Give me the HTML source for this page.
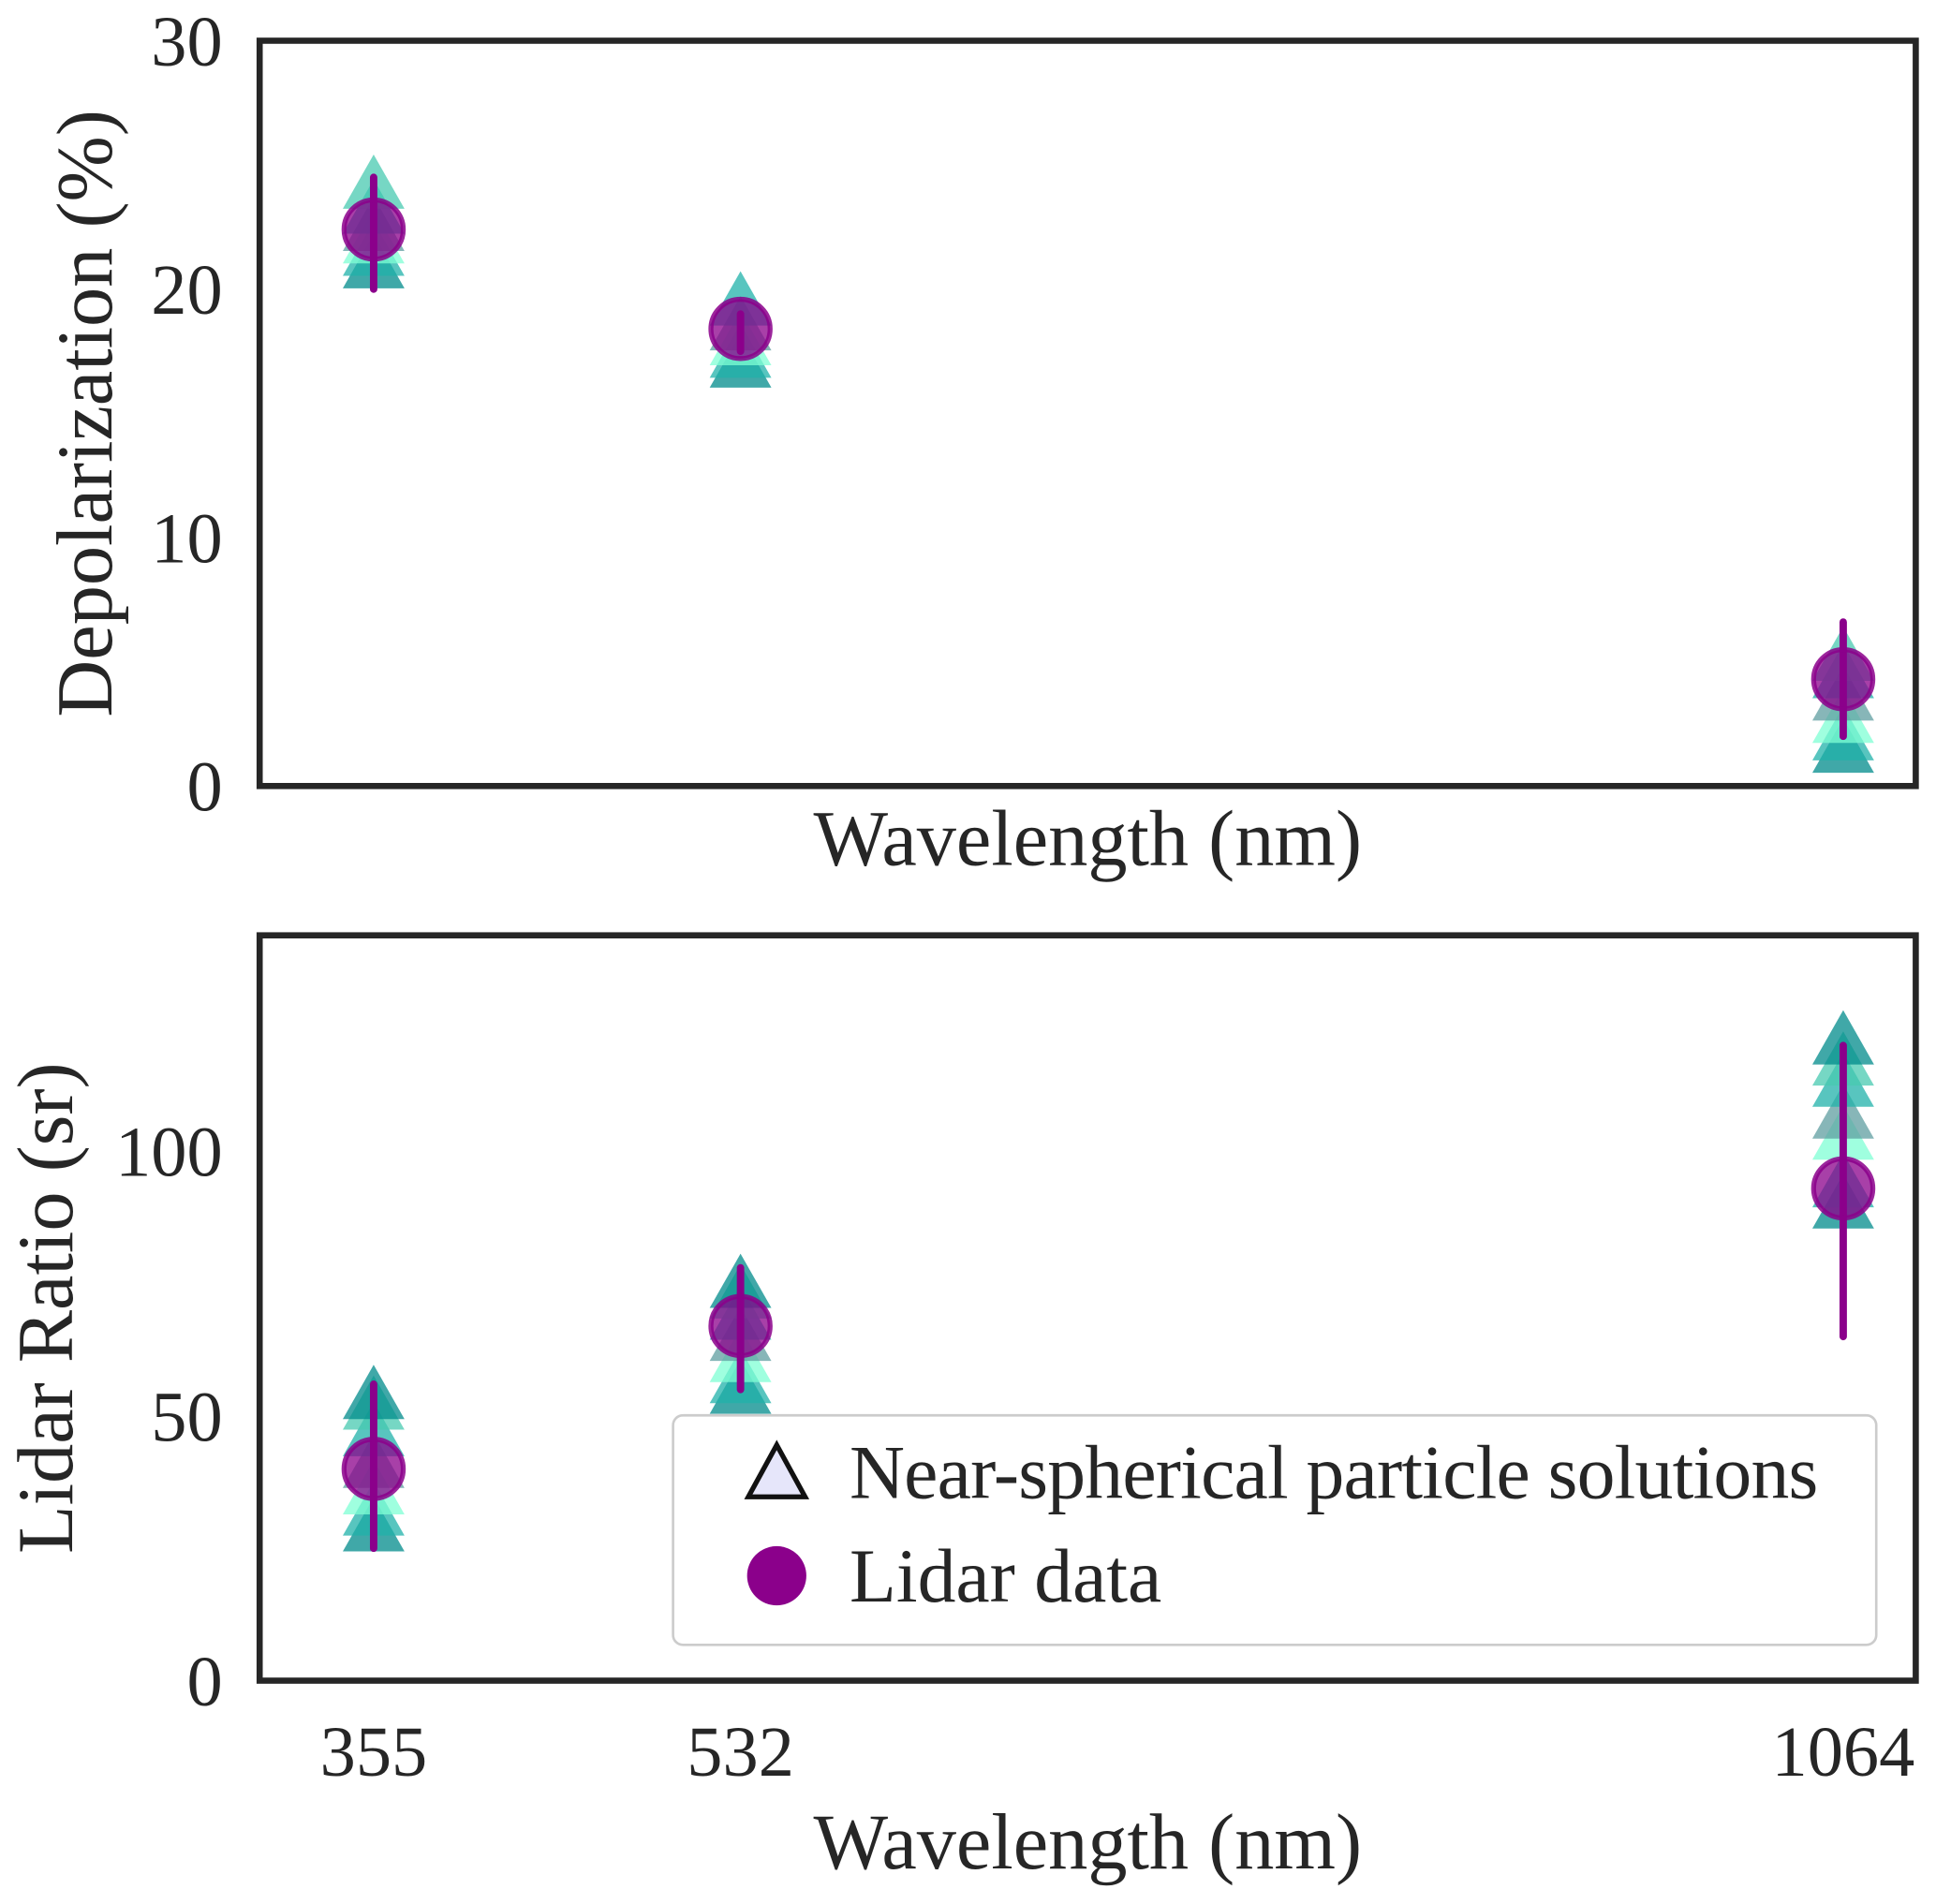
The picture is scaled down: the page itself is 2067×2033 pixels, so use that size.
<!DOCTYPE html>
<html><head><meta charset="utf-8"><style>
html,body{margin:0;padding:0;background:#fff;}
svg{display:block;}
text{font-family:"Liberation Serif",serif;fill:#262626;}
</style></head><body>
<svg id="fig" width="2067" height="2033" viewBox="0 0 1568 1543" xmlns="http://www.w3.org/2000/svg">
<g id="top"></g>
<g id="bot"></g>
</svg>
<script>
const wavelengths = [355, 532, 1064];
const xTickLabels = ["355", "532", "1064"];
// Depolarization (%) model solutions per wavelength
const depolTri355 = [20.8, 21.3, 21.8, 22.3, 23.0, 24.0];
const depolTri532 = [16.8, 17.2, 17.7, 18.3, 19.3];
const depolTri1064 = [1.3, 1.8, 2.5, 3.4, 4.3, 5.0];
const depolLidar = [22.4, 18.4, 4.3];
const depolErrLow = [20.0, 17.5, 2.0];
const depolErrHigh = [24.5, 19.0, 6.6];
const depolTicks = [0, 10, 20, 30];
// Lidar ratio (sr)
const lrTri355 = [28, 31, 35, 40, 46, 51, 53];
const lrTri532 = [54, 56, 60, 64, 68, 72, 74];
const lrTri1064 = [89, 93, 102, 106, 112, 116, 120];
const lrLidar = [40, 67, 93];
const lrErrLow = [25, 55, 65];
const lrErrHigh = [56, 78, 120];
const lrTicks = [0, 50, 100];

const NS = "http://www.w3.org/2000/svg";
const triColors = ["#008b8b", "#20b2aa", "#7fffd4", "#5f9ea0", "#20b2aa", "#48c9b0", "#008b8b"];
function mk(tag, attrs, parent) { const e = document.createElementNS(NS, tag); for (const k in attrs) e.setAttribute(k, attrs[k]); parent.appendChild(e); return e; }
const X0 = 210, X1 = 1552, D0 = 300, D1 = 1099;
const xs = v => X0 + (v - D0) / (D1 - D0) * (X1 - X0);

function panel(g, top, bottom, ymax, ticks, tris, lidar, lo, hi, ylabel, ylabelX, showX) {
  const ys = v => bottom - v / ymax * (bottom - top);
  tris.forEach((arr, i) => {
    arr.forEach((v, j) => {
      const cx = xs(wavelengths[i]), cy = ys(v), w = 25, h = 44;
      const t = mk("polygon", {points: `${cx-w},${cy+h*0.35} ${cx+w},${cy+h*0.35} ${cx},${cy-h*0.65}`, fill: triColors[j % triColors.length], "fill-opacity": 0.75}, g);
      
      
    });
  });
  lidar.forEach((v, i) => {
    const cx = xs(wavelengths[i]);
    const l = mk("line", {x1: cx, x2: cx, y1: ys(lo[i]), y2: ys(hi[i]), stroke: "#8b008b", "stroke-width": 6, "stroke-linecap": "round"}, g);
    
    
    const c = mk("circle", {cx: cx, cy: ys(v), r: 24, fill: "#8b008b", "fill-opacity": 0.75, stroke: "#8b008b", "stroke-width": 4, "stroke-opacity": 0.85}, g);
    
    
  });
  const f = mk("rect", {x: X0, y: top, width: X1 - X0, height: bottom - top, fill: "none", stroke: "#262626", "stroke-width": 5}, g);
  
  
  ticks.forEach(v => {
    const t = mk("text", {x: 180, y: ys(v) + 20, "text-anchor": "end", "font-size": 58}, g);
    t.textContent = v;
    
    
  });
  const yl = mk("text", {x: 0, y: 0, transform: `translate(${ylabelX},${(top + bottom) / 2}) rotate(-90)`, "text-anchor": "middle", "font-size": 64}, g);
  yl.textContent = ylabel;
  
  
  if (showX) {
    wavelengths.forEach((w, i) => {
      const t = mk("text", {x: xs(w), y: bottom + 77, "text-anchor": "middle", "font-size": 58}, g);
      t.textContent = xTickLabels[i];
      
      
    });
  }
  const xl = mk("text", {x: 881, y: bottom + (showX ? 152 : 64), "text-anchor": "middle", "font-size": 64}, g);
  xl.textContent = "Wavelength (nm)";
  
  
}
const gt = document.getElementById("top"), gb = document.getElementById("bot");
panel(gt, 33, 637, 30, depolTicks, [depolTri355, depolTri532, depolTri1064], depolLidar, depolErrLow, depolErrHigh, "Depolarization (%)", 90, false);
panel(gb, 758, 1362, 140.8, lrTicks, [lrTri355, lrTri532, lrTri1064], lrLidar, lrErrLow, lrErrHigh, "Lidar Ratio (sr)", 58, true);

// legend
const lg = mk("g", {}, gb);


const lb = mk("rect", {x: 545, y: 1147, width: 975, height: 186, rx: 8, fill: "#fff", "fill-opacity": 0.8, stroke: "#cccccc", "stroke-width": 2}, lg);


const lt = mk("polygon", {points: "606,1213 652,1213 629,1171", fill: "#e6e6fa", stroke: "#111", "stroke-width": 4}, lg);


const lc = mk("circle", {cx: 629, cy: 1277, r: 24, fill: "#8b008b"}, lg);


const t1 = mk("text", {x: 688, y: 1214, "font-size": 62, textLength: 785}, lg);
t1.textContent = "Near-spherical particle solutions";


const t2 = mk("text", {x: 688, y: 1298, "font-size": 62}, lg);
t2.textContent = "Lidar data";


</script>
</body></html>
